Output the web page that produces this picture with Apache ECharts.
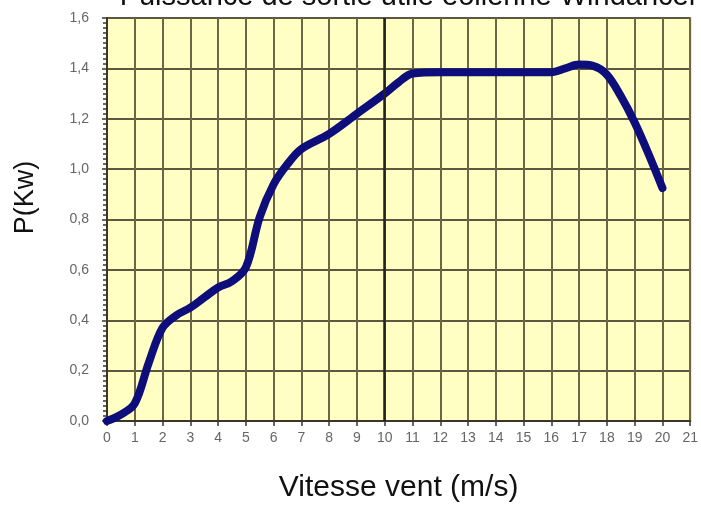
<!DOCTYPE html>
<html>
<head>
<meta charset="utf-8">
<script src="https://cdn.jsdelivr.net/npm/echarts@6/dist/echarts.min.js"></script>
<style>
  html, body { margin: 0; padding: 0; background: #fff; }
  #chart { width: 701px; height: 510px; }
</style>
</head>
<body>
<div id="chart"></div>
<script>
// vitesse du vent (m/s) et puissance (kW)
const windSpeed = [0, 0.5, 1, 1.5, 2, 2.5, 3, 3.5, 4, 4.5, 5, 5.5, 6, 6.5, 7, 8, 9, 10, 10.5, 11, 12, 13, 14, 15, 16, 16.5, 17, 17.5, 18, 18.5, 19, 19.5, 20]
const power = [0, 0.025, 0.07, 0.23, 0.37, 0.42, 0.45, 0.49, 0.53, 0.555, 0.61, 0.81, 0.94, 1.02, 1.08, 1.14, 1.22, 1.30, 1.345, 1.38, 1.385, 1.385, 1.385, 1.385, 1.385, 1.40, 1.415, 1.41, 1.375, 1.29, 1.185, 1.06, 0.925]

const font = 'Liberation Sans, Arial, sans-serif'

const chart = echarts.init(document.getElementById('chart'))
chart.setOption({
  animation: false,
  backgroundColor: '#fff',
  title: {
    text: 'Puissance de sortie utile éolienne Windancer',
    left: 404,
    textAlign: 'center',
    top: -23,
    textStyle: { fontFamily: font, fontSize: 29, fontWeight: 'normal', color: '#111' }
  },
  grid: {
    left: 107,
    right: 8,
    top: 18,
    bottom: 89,
    show: true,
    backgroundColor: '#ffffc4',
    borderColor: '#a09a88',
    borderWidth: 2
  },
  xAxis: {
    type: 'value',
    min: 0,
    max: 21,
    interval: 1,
    name: 'Vitesse vent (m/s)',
    nameLocation: 'middle',
    nameGap: 52,
    nameTextStyle: { fontFamily: font, fontSize: 30, color: '#111' },
    axisLine: { onZero: false, lineStyle: { color: '#3a3628', width: 2 } },
    axisTick: { show: true, length: 5, lineStyle: { color: '#3a3628', width: 1.5 } },
    axisLabel: { fontFamily: font, fontSize: 14, color: '#666', margin: 10 },
    splitLine: { show: true, lineStyle: { color: '#6e6548', width: 2 } }
  },
  yAxis: {
    type: 'value',
    min: 0,
    max: 1.6,
    interval: 0.2,
    name: 'P(Kw)',
    nameLocation: 'middle',
    nameGap: 68,
    nameTextStyle: { fontFamily: font, fontSize: 27, color: '#111', padding: [0, 0, 0, 44] },
    axisLine: { show: true, lineStyle: { color: '#3a3628', width: 2 } },
    axisTick: { show: true, length: 5, lineStyle: { color: '#3a3628', width: 1.5 } },
    minorTick: { show: true, splitNumber: 10, length: 4, lineStyle: { color: '#3a3628', width: 1.5 } },
    axisLabel: {
      fontFamily: font,
      fontSize: 14,
      color: '#666',
      margin: 18,
      formatter: v => v.toFixed(1).replace('.', ',')
    },
    splitLine: { show: true, lineStyle: { color: '#5e5640', width: 2 } }
  },
  series: [
    {
      type: 'line',
      data: windSpeed.map((x, i) => [x, power[i]]),
      smooth: 0.35,
      showSymbol: false,
      lineStyle: { color: '#0d0d7c', width: 8, cap: 'round', join: 'round' },
      markLine: {
        silent: true,
        symbol: 'none',
        label: { show: false },
        lineStyle: { color: '#222', width: 2.5, type: 'solid' },
        data: [{ xAxis: 10 }]
      },
      z: 3
    }
  ]
})
</script>
</body>
</html>
